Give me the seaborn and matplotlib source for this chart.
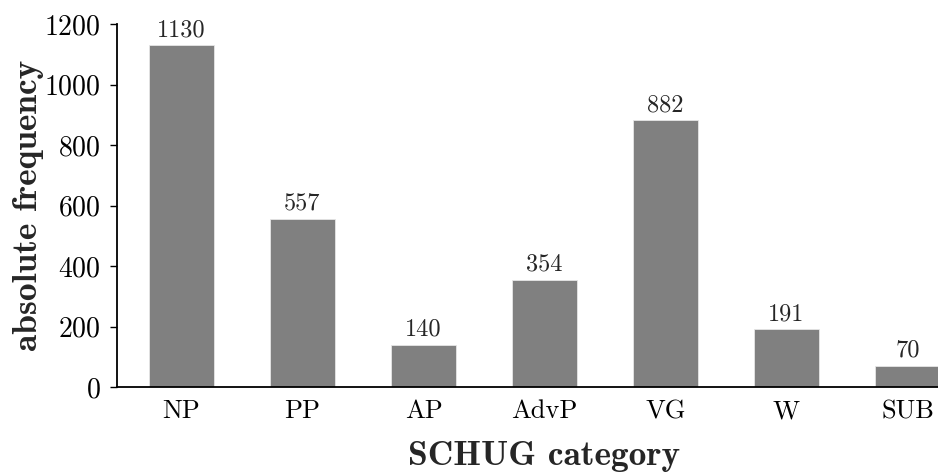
import numpy as np
import matplotlib
matplotlib.use('Agg')
import matplotlib.pyplot as plt
import pandas as pd
import seaborn as sns

# data
categories = ['NP', 'PP', 'AP', 'AdvP', 'VG', 'W', 'SUB']
frequencies = [1130, 557, 140, 354, 882, 191, 70]

sns.set_style('ticks')
# Computer Modern look (fonts shipped with matplotlib)
plt.rcParams['font.family'] = ['cmr10', 'DejaVu Serif']
plt.rcParams['axes.formatter.use_mathtext'] = True

df = pd.DataFrame({'category': categories, 'frequency': frequencies})

fig = plt.figure(figsize=(9.38, 4.75), dpi=100)
ax = fig.add_axes([117 / 938, 88 / 475, 855 / 938, 362.7 / 475])

sns.barplot(data=df, x='category', y='frequency', color='#808080', saturation=1,
            width=0.54, edgecolor='#e6e6e6', linewidth=0.6, ax=ax)
ax.bar_label(ax.containers[0], fontsize=17.5, padding=3)

ax.set_xlim(-0.533, 6.533)
ax.set_ylim(0, 1200)
ax.set_yticks(np.arange(0, 1201, 200))

sns.despine(ax=ax)
for s in ['left', 'bottom']:
    ax.spines[s].set_linewidth(1.3)
    ax.spines[s].set_color('black')

ax.tick_params(axis='y', length=5, width=1, pad=7, labelsize=20, direction='out', colors='black')
ax.tick_params(axis='x', length=0, pad=9, labelsize=19, colors='black')

ax.set_xlabel('SCHUG category', fontfamily='cmb10', fontsize=25.5, labelpad=13)
ax.set_ylabel('absolute frequency', fontfamily='cmb10', fontsize=25.5, labelpad=0)

fig.savefig('out.png', dpi=100)
